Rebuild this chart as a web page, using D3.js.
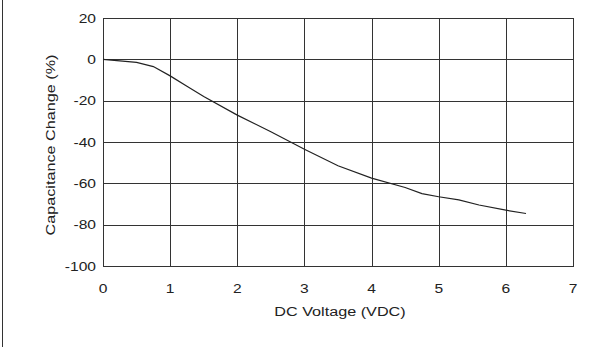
<!DOCTYPE html>
<html><head><meta charset="utf-8">
<script src="https://cdn.jsdelivr.net/npm/d3@7"></script>
<style>
html,body{margin:0;padding:0;background:#fff;}
text{font-family:"Liberation Sans",Arial,sans-serif;fill:#222;}
</style></head>
<body>
<script>
const voltage = [0, 0.5, 0.75, 1.0, 1.25, 1.5, 2.0, 2.5, 3.0, 3.5, 4.0, 4.5, 4.75, 5.0, 5.3, 5.6, 6.0, 6.3];
const capChange = [0, -1.5, -3.5, -8, -13, -18, -27, -35, -43.5, -51.5, -57.5, -62, -65, -66.5, -68, -70.5, -73, -74.6];
const xTicks = [0, 1, 2, 3, 4, 5, 6, 7];
const yTicks = [20, 0, -20, -40, -60, -80, -100];
const xTitle = "DC Voltage (VDC)";
const yTitle = "Capacitance Change (%)";

const W = 602, H = 347;
const L = 103, R = 573, T = 18, B = 266;
const svg = d3.select("body").append("svg").attr("width", W).attr("height", H);
svg.append("rect").attr("width", W).attr("height", H).attr("fill", "#fff");
svg.append("line").attr("x1", 2.5).attr("x2", 2.5).attr("y1", 0).attr("y2", H).attr("stroke", "#333").attr("stroke-width", 1);

const x = d3.scaleLinear().domain([0, 7]).range([L, R]);
const y = d3.scaleLinear().domain([-100, 20]).range([B, T]);
const px = v => Math.round(v) + 0.5;

const g = svg.append("g");
g.selectAll(".vg").data(xTicks.slice(1, -1)).join("line")
  .attr("x1", d => px(x(d))).attr("x2", d => px(x(d))).attr("y1", T).attr("y2", B)
  .attr("stroke", "#333").attr("stroke-width", 1);
g.selectAll(".hg").data(yTicks.slice(1, -1)).join("line")
  .attr("y1", d => px(y(d))).attr("y2", d => px(y(d))).attr("x1", L).attr("x2", R)
  .attr("stroke", "#333").attr("stroke-width", 1);
g.append("rect").attr("x", px(L)).attr("y", px(T)).attr("width", Math.round(R) - Math.round(L)).attr("height", Math.round(B) - Math.round(T))
  .attr("fill", "none").attr("stroke", "#333").attr("stroke-width", 1);

const data = voltage.map((v, i) => [v, capChange[i]]);
g.append("path").datum(data)
  .attr("d", d3.line().x(d => x(d[0])).y(d => y(d[1])))
  .attr("fill", "none").attr("stroke", "#222").attr("stroke-width", 1.2);

svg.selectAll(".yt").data(yTicks).join("text")
  .attr("transform", d => `translate(96,${y(d)}) scale(1.2,1)`)
  .attr("text-anchor", "end").attr("dy", "0.35em").attr("font-size", 13)
  .text(d => d);
svg.selectAll(".xt").data(xTicks).join("text")
  .attr("transform", d => `translate(${x(d)},293) scale(1.2,1)`)
  .attr("text-anchor", "middle").attr("font-size", 13)
  .text(d => d);
svg.append("text").attr("transform", "translate(340,316) scale(1.2,1)")
  .attr("text-anchor", "middle").attr("font-size", 13.5).text(xTitle);
svg.append("text").attr("transform", "translate(55,145) rotate(-90) scale(1.2,1)")
  .attr("text-anchor", "middle").attr("font-size", 13.5).text(yTitle);
</script>
</body></html>
